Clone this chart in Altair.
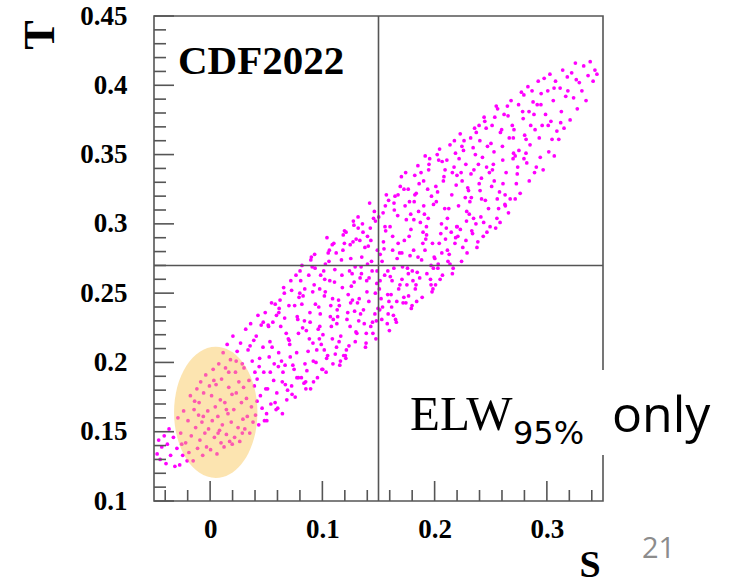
import altair as alt
import pandas as pd

# ---------------- data ----------------
# scan points (S, T), grouped by region along the band
band_a = [
    (-0.0472, 0.134), (-0.0458, 0.144), (-0.0445, 0.130), (-0.0431, 0.139), (-0.0409, 0.147),
    (-0.0393, 0.127), (-0.0381, 0.141), (-0.0366, 0.152), (-0.0352, 0.133), (-0.0327, 0.146), (-0.0314, 0.125),
    (-0.0296, 0.138), (-0.0287, 0.160), (-0.0271, 0.126), (-0.0262, 0.149), (-0.0244, 0.133), (-0.0236, 0.165), (-0.0218, 0.142), (-0.0205, 0.129),
    (-0.0197, 0.158), (-0.0189, 0.135), (-0.0176, 0.176), (-0.0168, 0.147), (-0.0151, 0.129), (-0.0143, 0.166), (-0.0129, 0.153), (-0.0118, 0.181), (-0.0112, 0.138), (-0.0103, 0.162),
    (-0.0098, 0.171), (-0.0091, 0.144), (-0.0084, 0.186), (-0.0073, 0.157), (-0.0066, 0.133), (-0.0058, 0.178), (-0.0047, 0.149), (-0.0039, 0.191), (-0.0032, 0.139), (-0.0021, 0.165), (-0.0014, 0.152), (-0.0006, 0.183),
    (0.0004, 0.137), (0.0013, 0.176), (0.0019, 0.158), (0.0027, 0.195), (0.0038, 0.146), (0.0046, 0.168), (0.0053, 0.184), (0.0061, 0.134), (0.0069, 0.161), (0.0077, 0.199), (0.0084, 0.151), (0.0091, 0.173), (0.0097, 0.142),
    (0.0102, 0.188), (0.0109, 0.155), (0.0116, 0.207), (0.0124, 0.139), (0.0131, 0.171), (0.0137, 0.196), (0.0145, 0.148), (0.0152, 0.213), (0.0159, 0.163), (0.0166, 0.182), (0.0174, 0.143), (0.0181, 0.202), (0.0188, 0.157), (0.0195, 0.177),
    (0.0203, 0.219), (0.0211, 0.166), (0.0218, 0.146), (0.0226, 0.193), (0.0233, 0.178), (0.0241, 0.208), (0.0249, 0.153), (0.0256, 0.186), (0.0264, 0.143), (0.0271, 0.214), (0.0279, 0.171), (0.0286, 0.199), (0.0292, 0.159), (0.0298, 0.182),
    (0.0302, 0.196), (0.0309, 0.152), (0.0317, 0.224), (0.0324, 0.174), (0.0331, 0.161), (0.0338, 0.209), (0.0346, 0.187), (0.0353, 0.149), (0.0361, 0.228), (0.0368, 0.168), (0.0375, 0.201), (0.0382, 0.157), (0.0389, 0.216), (0.0394, 0.183), (0.0399, 0.193),
    (0.0404, 0.162), (0.0411, 0.219), (0.0419, 0.188), (0.0426, 0.234), (0.0433, 0.155), (0.0441, 0.203), (0.0448, 0.176), (0.0455, 0.227), (0.0463, 0.167), (0.0471, 0.211), (0.0478, 0.193), (0.0484, 0.158), (0.0491, 0.236), (0.0496, 0.181), (0.0437, 0.197),
]
band_b = [
    (0.0547, 0.243), (0.0512, 0.181), (0.0588, 0.166), (0.0533, 0.215), (0.0571, 0.199), (0.0505, 0.158), (0.0559, 0.229), (0.0594, 0.178), (0.0526, 0.204), (0.0580, 0.242), (0.0541, 0.170), (0.0517, 0.227), (0.0566, 0.187), (0.0503, 0.163), (0.0552, 0.211), (0.0591, 0.234),
    (0.0683, 0.173), (0.0629, 0.226), (0.0661, 0.250), (0.0608, 0.197), (0.0644, 0.163), (0.0697, 0.217), (0.0615, 0.239), (0.0670, 0.184), (0.0636, 0.201), (0.0655, 0.254), (0.0602, 0.167), (0.0678, 0.221), (0.0649, 0.193), (0.0623, 0.245), (0.0690, 0.180), (0.0664, 0.232), (0.0611, 0.207),
    (0.0719, 0.259), (0.0773, 0.189), (0.0704, 0.216), (0.0758, 0.175), (0.0792, 0.247), (0.0737, 0.198), (0.0781, 0.231), (0.0726, 0.183), (0.0765, 0.263), (0.0709, 0.213), (0.0748, 0.195), (0.0799, 0.250), (0.0730, 0.177), (0.0776, 0.233), (0.0714, 0.204), (0.0753, 0.241), (0.0787, 0.221),
    (0.0862, 0.194), (0.0807, 0.259), (0.0895, 0.181), (0.0840, 0.230), (0.0818, 0.270), (0.0884, 0.217), (0.0851, 0.186), (0.0828, 0.248), (0.0873, 0.208), (0.0801, 0.266), (0.0836, 0.185), (0.0889, 0.236), (0.0857, 0.223), (0.0813, 0.189), (0.0879, 0.263), (0.0845, 0.199), (0.0824, 0.225), (0.0897, 0.274),
    (0.0931, 0.278), (0.0990, 0.213), (0.0956, 0.189), (0.0914, 0.251), (0.0977, 0.226), (0.0943, 0.200), (0.0902, 0.276), (0.0968, 0.240), (0.0921, 0.186), (0.0985, 0.263), (0.0950, 0.209), (0.0909, 0.269), (0.0996, 0.195), (0.0938, 0.242), (0.0963, 0.224), (0.0927, 0.256), (0.0981, 0.235), (0.0916, 0.214),
    (0.1047, 0.205), (0.1012, 0.266), (0.1088, 0.285), (0.1033, 0.193), (0.1071, 0.233), (0.1005, 0.220), (0.1059, 0.273), (0.1094, 0.199), (0.1026, 0.251), (0.1080, 0.226), (0.1041, 0.290), (0.1017, 0.209), (0.1066, 0.259), (0.1003, 0.195), (0.1052, 0.279), (0.1091, 0.246), (0.1038, 0.203), (0.1075, 0.241), (0.1021, 0.260),
    (0.1183, 0.281), (0.1129, 0.228), (0.1161, 0.201), (0.1108, 0.258), (0.1144, 0.245), (0.1197, 0.295), (0.1115, 0.206), (0.1170, 0.274), (0.1136, 0.233), (0.1155, 0.198), (0.1102, 0.286), (0.1178, 0.254), (0.1149, 0.215), (0.1123, 0.279), (0.1190, 0.205), (0.1164, 0.219), (0.1111, 0.267), (0.1132, 0.238), (0.1186, 0.292),
    (0.1219, 0.231), (0.1273, 0.287), (0.1204, 0.205), (0.1258, 0.255), (0.1292, 0.269), (0.1237, 0.212), (0.1281, 0.299), (0.1226, 0.236), (0.1265, 0.264), (0.1209, 0.203), (0.1248, 0.285), (0.1299, 0.222), (0.1230, 0.249), (0.1276, 0.302), (0.1214, 0.209), (0.1253, 0.275), (0.1287, 0.237), (0.1242, 0.266), (0.1268, 0.245),
    (0.1362, 0.294), (0.1307, 0.221), (0.1395, 0.259), (0.1340, 0.235), (0.1318, 0.305), (0.1384, 0.211), (0.1351, 0.276), (0.1328, 0.246), (0.1373, 0.228), (0.1301, 0.289), (0.1336, 0.261), (0.1389, 0.214), (0.1357, 0.300), (0.1313, 0.243), (0.1379, 0.283), (0.1345, 0.269), (0.1324, 0.230), (0.1397, 0.251), (0.1334, 0.288),
    (0.1431, 0.226), (0.1490, 0.281), (0.1456, 0.304), (0.1414, 0.244), (0.1477, 0.217), (0.1443, 0.266), (0.1402, 0.291), (0.1468, 0.235), (0.1421, 0.315), (0.1485, 0.257), (0.1450, 0.221), (0.1409, 0.284), (0.1496, 0.239), (0.1438, 0.273), (0.1463, 0.309), (0.1427, 0.297), (0.1481, 0.230), (0.1416, 0.261), (0.1472, 0.250),
]
band_c = [
    (0.1583, 0.266), (0.1529, 0.231), (0.1561, 0.313), (0.1508, 0.253), (0.1544, 0.287), (0.1597, 0.223), (0.1515, 0.278), (0.1570, 0.321), (0.1536, 0.240), (0.1555, 0.263), (0.1502, 0.305), (0.1578, 0.228), (0.1549, 0.282), (0.1523, 0.246), (0.1590, 0.317), (0.1564, 0.295), (0.1511, 0.238), (0.1532, 0.273), (0.1586, 0.235),
    (0.1647, 0.320), (0.1612, 0.249), (0.1688, 0.279), (0.1633, 0.234), (0.1671, 0.306), (0.1605, 0.262), (0.1659, 0.229), (0.1694, 0.327), (0.1626, 0.291), (0.1680, 0.253), (0.1641, 0.310), (0.1617, 0.240), (0.1666, 0.275), (0.1603, 0.298), (0.1652, 0.231), (0.1691, 0.256), (0.1638, 0.315), (0.1675, 0.286), (0.1621, 0.259),
    (0.1719, 0.243), (0.1773, 0.291), (0.1704, 0.334), (0.1758, 0.268), (0.1792, 0.239), (0.1737, 0.313), (0.1781, 0.277), (0.1726, 0.247), (0.1765, 0.325), (0.1709, 0.260), (0.1748, 0.303), (0.1799, 0.241), (0.1730, 0.288), (0.1776, 0.316), (0.1714, 0.269), (0.1753, 0.256), (0.1787, 0.307), (0.1742, 0.337), (0.1768, 0.248),
    (0.1862, 0.329), (0.1807, 0.259), (0.1895, 0.286), (0.1840, 0.244), (0.1818, 0.316), (0.1884, 0.274), (0.1851, 0.342), (0.1828, 0.253), (0.1873, 0.301), (0.1801, 0.266), (0.1836, 0.322), (0.1889, 0.247), (0.1857, 0.309), (0.1813, 0.281), (0.1879, 0.337), (0.1845, 0.265), (0.1824, 0.321), (0.1897, 0.294), (0.1834, 0.256),
    (0.1931, 0.264), (0.1990, 0.314), (0.1956, 0.347), (0.1914, 0.281), (0.1977, 0.251), (0.1943, 0.304), (0.1902, 0.331), (0.1968, 0.270), (0.1921, 0.289), (0.1985, 0.253), (0.1950, 0.343), (0.1909, 0.307), (0.1996, 0.276), (0.1938, 0.325), (0.1963, 0.260), (0.1927, 0.298), (0.1981, 0.286), (0.1916, 0.349), (0.1972, 0.320),
    (0.2083, 0.334), (0.2029, 0.268), (0.2061, 0.300), (0.2008, 0.256), (0.2044, 0.354), (0.2097, 0.289), (0.2015, 0.316), (0.2070, 0.263), (0.2036, 0.346), (0.2055, 0.293), (0.2002, 0.275), (0.2078, 0.331), (0.2049, 0.260), (0.2023, 0.350), (0.2090, 0.311), (0.2064, 0.279), (0.2011, 0.327), (0.2032, 0.271),
    (0.2119, 0.273), (0.2173, 0.341), (0.2104, 0.297), (0.2158, 0.264), (0.2192, 0.328), (0.2137, 0.357), (0.2181, 0.286), (0.2126, 0.311), (0.2165, 0.268), (0.2109, 0.346), (0.2148, 0.294), (0.2199, 0.335), (0.2130, 0.278), (0.2176, 0.360), (0.2114, 0.304), (0.2153, 0.321), (0.2187, 0.290),
    (0.2262, 0.360), (0.2207, 0.291), (0.2295, 0.326), (0.2240, 0.273), (0.2218, 0.347), (0.2284, 0.302), (0.2251, 0.283), (0.2228, 0.365), (0.2273, 0.319), (0.2201, 0.298), (0.2236, 0.337), (0.2289, 0.279), (0.2257, 0.353), (0.2213, 0.313), (0.2279, 0.288), (0.2245, 0.331),
    (0.2331, 0.295), (0.2390, 0.343), (0.2356, 0.369), (0.2314, 0.316), (0.2377, 0.283), (0.2343, 0.355), (0.2302, 0.324), (0.2368, 0.300), (0.2321, 0.362), (0.2385, 0.287), (0.2350, 0.339), (0.2309, 0.307), (0.2396, 0.371), (0.2338, 0.293), (0.2363, 0.350), (0.2327, 0.319),
    (0.2447, 0.374), (0.2412, 0.305), (0.2488, 0.337), (0.2433, 0.291), (0.2471, 0.356), (0.2405, 0.324), (0.2459, 0.369), (0.2494, 0.298), (0.2426, 0.348), (0.2480, 0.311), (0.2441, 0.377), (0.2417, 0.333), (0.2466, 0.294), (0.2403, 0.360), (0.2452, 0.317),
]
band_d = [
    (0.2583, 0.301), (0.2529, 0.352), (0.2561, 0.383), (0.2508, 0.327), (0.2544, 0.297), (0.2597, 0.368), (0.2515, 0.339), (0.2570, 0.311), (0.2536, 0.377), (0.2555, 0.304), (0.2502, 0.358), (0.2578, 0.323), (0.2549, 0.385), (0.2523, 0.343),
    (0.2619, 0.379), (0.2673, 0.318), (0.2604, 0.356), (0.2658, 0.308), (0.2692, 0.371), (0.2637, 0.337), (0.2681, 0.389), (0.2626, 0.314), (0.2665, 0.362), (0.2609, 0.329), (0.2648, 0.385), (0.2699, 0.347), (0.2630, 0.313),
    (0.2762, 0.322), (0.2707, 0.368), (0.2795, 0.393), (0.2740, 0.341), (0.2718, 0.318), (0.2784, 0.381), (0.2751, 0.353), (0.2728, 0.329), (0.2773, 0.395), (0.2701, 0.362), (0.2736, 0.336), (0.2789, 0.376),
    (0.2831, 0.399), (0.2890, 0.337), (0.2856, 0.371), (0.2814, 0.351), (0.2877, 0.388), (0.2843, 0.331), (0.2802, 0.364), (0.2868, 0.396), (0.2821, 0.344), (0.2885, 0.379), (0.2850, 0.357),
    (0.2906, 0.341), (0.2914, 0.386), (0.2923, 0.403), (0.2932, 0.362), (0.2941, 0.348), (0.2949, 0.394), (0.2958, 0.371), (0.2967, 0.339), (0.2976, 0.405), (0.2988, 0.379),
    (0.3008, 0.396), (0.3017, 0.352), (0.3027, 0.408), (0.3036, 0.374), (0.3046, 0.361), (0.3057, 0.389), (0.3066, 0.349), (0.3077, 0.403), (0.3089, 0.367),
    (0.3106, 0.361), (0.3118, 0.398), (0.3129, 0.381), (0.3141, 0.411), (0.3153, 0.369), (0.3168, 0.392), (0.3182, 0.406),
    (0.3207, 0.375), (0.3221, 0.409), (0.3238, 0.391), (0.3254, 0.416), (0.3271, 0.383), (0.3289, 0.402),
    (0.3312, 0.396), (0.3328, 0.414), (0.3349, 0.389), (0.3367, 0.407), (0.3386, 0.417),
    (0.3412, 0.403), (0.3428, 0.411), (0.3446, 0.408),
]
band_fill = [
    (-0.0253, 0.141), (-0.0138, 0.172), (-0.0061, 0.161), (0.0033, 0.187), (0.0071, 0.149), (0.0166, 0.193), (0.0197, 0.141),
    (0.0145, 0.166), (0.0232, 0.201), (0.0287, 0.149), (0.0356, 0.212), (0.0418, 0.172), (0.0473, 0.229), (0.0536, 0.193),
    (0.0579, 0.171), (0.0612, 0.236), (0.0668, 0.198), (0.0726, 0.252), (0.0771, 0.207), (0.0817, 0.242), (0.0853, 0.181),
    (0.0891, 0.229), (0.0935, 0.268), (0.0973, 0.217), (0.1018, 0.248), (0.1062, 0.281), (0.1097, 0.231), (0.1126, 0.211),
    (0.1174, 0.263), (0.1211, 0.294), (0.1247, 0.226), (0.1283, 0.258), (0.1319, 0.297), (0.1366, 0.238), (0.1402, 0.271),
    (0.1447, 0.229), (0.1473, 0.302), (0.1514, 0.259), (0.1558, 0.298), (0.1593, 0.244), (0.1637, 0.268), (0.1674, 0.321),
    (0.1708, 0.279), (0.1744, 0.243), (0.1789, 0.296), (0.1823, 0.335), (0.1867, 0.261), (0.1903, 0.313), (0.1947, 0.339),
    (0.1989, 0.268), (0.2026, 0.323), (0.2067, 0.345), (0.2114, 0.281), (0.2158, 0.337), (0.2197, 0.298), (0.2243, 0.356),
    (0.2286, 0.309), (0.2324, 0.336), (0.2371, 0.366), (0.2418, 0.318), (0.2463, 0.341), (0.2512, 0.371), (0.2558, 0.318),
    (0.2607, 0.346), (0.2654, 0.378), (0.2703, 0.351), (0.2748, 0.386), (0.2796, 0.347), (0.2841, 0.381), (0.2895, 0.368),
    (0.2947, 0.386), (0.3012, 0.371), (0.3064, 0.398), (0.3123, 0.373), (0.3187, 0.396), (0.3262, 0.404),
    (0.0521, 0.226), (0.0643, 0.186), (0.0702, 0.241), (0.0786, 0.189), (0.0843, 0.253), (0.0919, 0.201), (0.0976, 0.253),
    (0.1027, 0.271), (0.1089, 0.217), (0.1151, 0.241), (0.1196, 0.286), (0.1252, 0.243), (0.1293, 0.215), (0.1348, 0.264),
    (0.1391, 0.221), (0.1432, 0.288), (0.1487, 0.266), (0.1541, 0.308), (0.1582, 0.249), (0.1626, 0.281), (0.1663, 0.244),
    (0.1727, 0.325), (0.1766, 0.264), (0.1815, 0.303), (0.1852, 0.276), (0.1928, 0.292), (0.1968, 0.256), (0.2041, 0.286),
    (0.2093, 0.339), (0.2137, 0.271), (0.2186, 0.351), (0.2229, 0.296), (0.2278, 0.343), (0.2347, 0.304), (0.2397, 0.329),
    (0.2437, 0.301), (0.2531, 0.331), (0.2586, 0.366), (0.2628, 0.321), (0.2718, 0.349), (0.2815, 0.361),
]

# reference lines (S, T)
s_line = [0.15]
t_line = [0.27]
# highlighted region centre (S, T)
ellipse_center = [(0.005, 0.164)]

# tick positions and labels
x_labels = [0, 0.1, 0.2, 0.3]
x_minor = [-0.04, -0.02, 0.02, 0.04, 0.06, 0.08, 0.12, 0.14, 0.16, 0.18,
           0.22, 0.24, 0.26, 0.28, 0.32, 0.34]
y_labels = [0.1, 0.15, 0.2, 0.25, 0.3, 0.35, 0.4, 0.45]
y_minor = [0.11, 0.12, 0.13, 0.14, 0.16, 0.17, 0.18, 0.19, 0.21, 0.22, 0.23, 0.24,
           0.26, 0.27, 0.28, 0.29, 0.31, 0.32, 0.33, 0.34, 0.36, 0.37, 0.38, 0.39,
           0.41, 0.42, 0.43, 0.44]

# ---------------- chart ----------------
W, H = 449, 485
PAD_L, PAD_T = 154, 16
FRAME = "#555555"
SERIF = "Liberation Serif"

xs = alt.Scale(domain=[-0.05, 0.35], nice=False, zero=False)
ys = alt.Scale(domain=[0.1, 0.45], nice=False, zero=False)

label_style = dict(ticks=False, domain=False, grid=False, labelFont=SERIF,
                   labelFontWeight="bold", labelFontSize=27, labelColor="black",
                   labelFlush=False, title=None, format="~g", zindex=1)
x_axis = alt.Axis(values=x_labels, labelPadding=15, **label_style)
y_axis = alt.Axis(values=y_labels, labelPadding=27, **label_style)


def X(field):
    return alt.X(field, scale=xs, axis=x_axis)


def Y(field):
    return alt.Y(field, scale=ys, axis=y_axis)


pts = pd.DataFrame(band_a + band_b + band_c + band_d + band_fill, columns=["S", "T"])

frame = alt.Chart(pd.DataFrame({"k": [0]})).mark_rect(
    fill="white", stroke=FRAME, strokeWidth=1.6
).encode(x=alt.value(0), x2=alt.value(W), y=alt.value(0), y2=alt.value(H))

points = alt.Chart(pts).mark_circle(color="#ff00ff", size=14, opacity=1).encode(
    x=X("S:Q"), y=Y("T:Q"))

ell_path = "M0,-1.575A1,1.575,0,1,1,0,1.575A1,1.575,0,1,1,0,-1.575Z"
ellipse = alt.Chart(pd.DataFrame(ellipse_center, columns=["S", "T"])).mark_point(
    shape=ell_path, size=6956, filled=True, fill="#f8c450", fillOpacity=0.45, strokeWidth=0
).encode(x=X("S:Q"), y=Y("T:Q"))

vline = alt.Chart(pd.DataFrame({"v": s_line})).mark_rule(color=FRAME, strokeWidth=1.6).encode(
    x=X("v:Q"))
hline = alt.Chart(pd.DataFrame({"v": t_line})).mark_rule(color=FRAME, strokeWidth=1.6).encode(
    y=Y("v:Q"))


def xticks(vals, length):
    return alt.Chart(pd.DataFrame({"v": vals})).mark_rule(color=FRAME, strokeWidth=1.6).encode(
        x=X("v:Q"), y=alt.value(H), y2=alt.value(H - length))


def yticks(vals, length):
    return alt.Chart(pd.DataFrame({"v": vals})).mark_rule(color=FRAME, strokeWidth=1.6).encode(
        y=Y("v:Q"), x=alt.value(0), x2=alt.value(length))


def label(text, x, y, **kw):
    return alt.Chart(pd.DataFrame({"t": [text]})).mark_text(**kw).encode(
        text="t:N", x=alt.value(x), y=alt.value(y))


cdf = label("CDF2022", 24, 58, font=SERIF, fontWeight="bold", fontSize=41,
            align="left", baseline="alphabetic", color="black")
t_title = label("T", -113, 19, font=SERIF, fontWeight="bold", fontSize=44,
                align="center", baseline="middle", angle=270, color="black")
s_title = label("S", 436, 561, font=SERIF, fontWeight="bold", fontSize=38,
                align="center", baseline="alphabetic", color="black")
page = label("21", 488, 542, font="Open Sans", fontSize=29, align="left",
             baseline="alphabetic", color="#8c8c8c")

box = alt.Chart(pd.DataFrame({"k": [0]})).mark_rect(fill="white").encode(
    x=alt.value(246), x2=alt.value(571), y=alt.value(354), y2=alt.value(439))
elw = label("ELW", 256, 414, font=SERIF, fontSize=49, align="left",
            baseline="alphabetic", color="black")
sub = label("95%", 359, 428, font="DejaVu Sans", fontSize=32, align="left",
            baseline="alphabetic", color="black")
only = label("only", 458, 416, font="Open Sans", fontSize=50, align="left",
             baseline="alphabetic", color="black")

chart = alt.layer(
    frame, points, ellipse, vline, hline,
    xticks(x_labels, 20), xticks(x_minor, 11), yticks(y_labels, 20), yticks(y_minor, 12),
    cdf, t_title, s_title, page, box, elw, sub, only,
).properties(
    width=W, height=H,
    autosize=alt.AutoSizeParams(type="none"),
    padding={"left": PAD_L, "top": PAD_T, "right": 744 - PAD_L - W, "bottom": 588 - PAD_T - H},
    background="white",
).configure_view(stroke=None)

chart.save("out.html", embed_options={"renderer": "svg", "actions": False})
